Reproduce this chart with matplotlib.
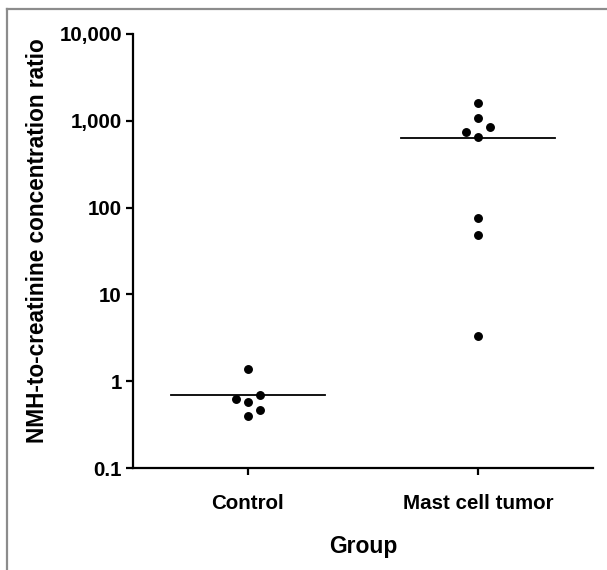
import matplotlib.pyplot as plt
from matplotlib.lines import Line2D
from matplotlib.ticker import FixedLocator, NullLocator
import numpy as np

plt.rcParams['font.family'] = ['Liberation Sans', 'DejaVu Sans']
plt.rcParams['font.weight'] = 'bold'

# data
groups = ['Control', 'Mast cell tumor']
control = [1.37, 0.63, 0.57, 0.69, 0.47, 0.40]
control_col = [0, -1, 0, 1, 1, 0]          # column in the dot stack
tumor = [1590, 1080, 840, 740, 656, 75, 48, 3.3]
tumor_col = [0, 0, 1, -1, 0, 0, 0, 0]
yticks = [0.1, 1, 10, 100, 1000, 10000]
ytick_labels = ['0.1', '1', '10', '100', '1,000', '10,000']

fig = plt.figure(figsize=(6.07, 5.70), dpi=100)
ax = fig.add_axes([133 / 607, 1 - 468 / 570, 460 / 607, 434 / 570])

spacing = 0.054
for i, (vals, cols) in enumerate([(control, control_col), (tumor, tumor_col)]):
    xs = i + spacing * np.array(cols)
    ax.plot(xs, vals, 'o', color='black', markersize=5.4, zorder=3, clip_on=False)
    m = np.mean(vals)
    ax.plot([i - 0.335, i + 0.335], [m, m], color='black', lw=1.3, zorder=2)

ax.set_yscale('log')
ax.set_ylim(0.1, 10000)
ax.set_xlim(-0.5, 1.5)
ax.yaxis.set_major_locator(FixedLocator(yticks))
ax.yaxis.set_minor_locator(NullLocator())
ax.set_yticklabels(ytick_labels)
ax.set_xticks([0, 1])
ax.set_xticklabels(groups)

for s in ['top', 'right']:
    ax.spines[s].set_visible(False)
for s in ['left', 'bottom']:
    ax.spines[s].set_linewidth(1.6)
ax.tick_params(axis='both', length=5, width=1.6, labelsize=14.8, pad=3)
ax.tick_params(axis='x', pad=14)

ax.set_ylabel('NMH-to-creatinine concentration ratio', fontsize=16.3,
              fontweight='bold', va='center')
ax.yaxis.set_label_coords(-95 / 460, 0.525)
ax.set_xlabel('Group', fontsize=16.5, fontweight='bold', va='center')
ax.xaxis.set_label_coords(0.5, -79 / 434)

# grey frame left over from the page crop
fig.add_artist(Line2D([7 / 607, 7 / 607], [0, 1 - 9 / 570], color='#8c8c8c', lw=1.6))
fig.add_artist(Line2D([7 / 607, 1], [1 - 9 / 570, 1 - 9 / 570], color='#8c8c8c', lw=1.6))

fig.savefig('out.png', dpi=100)
